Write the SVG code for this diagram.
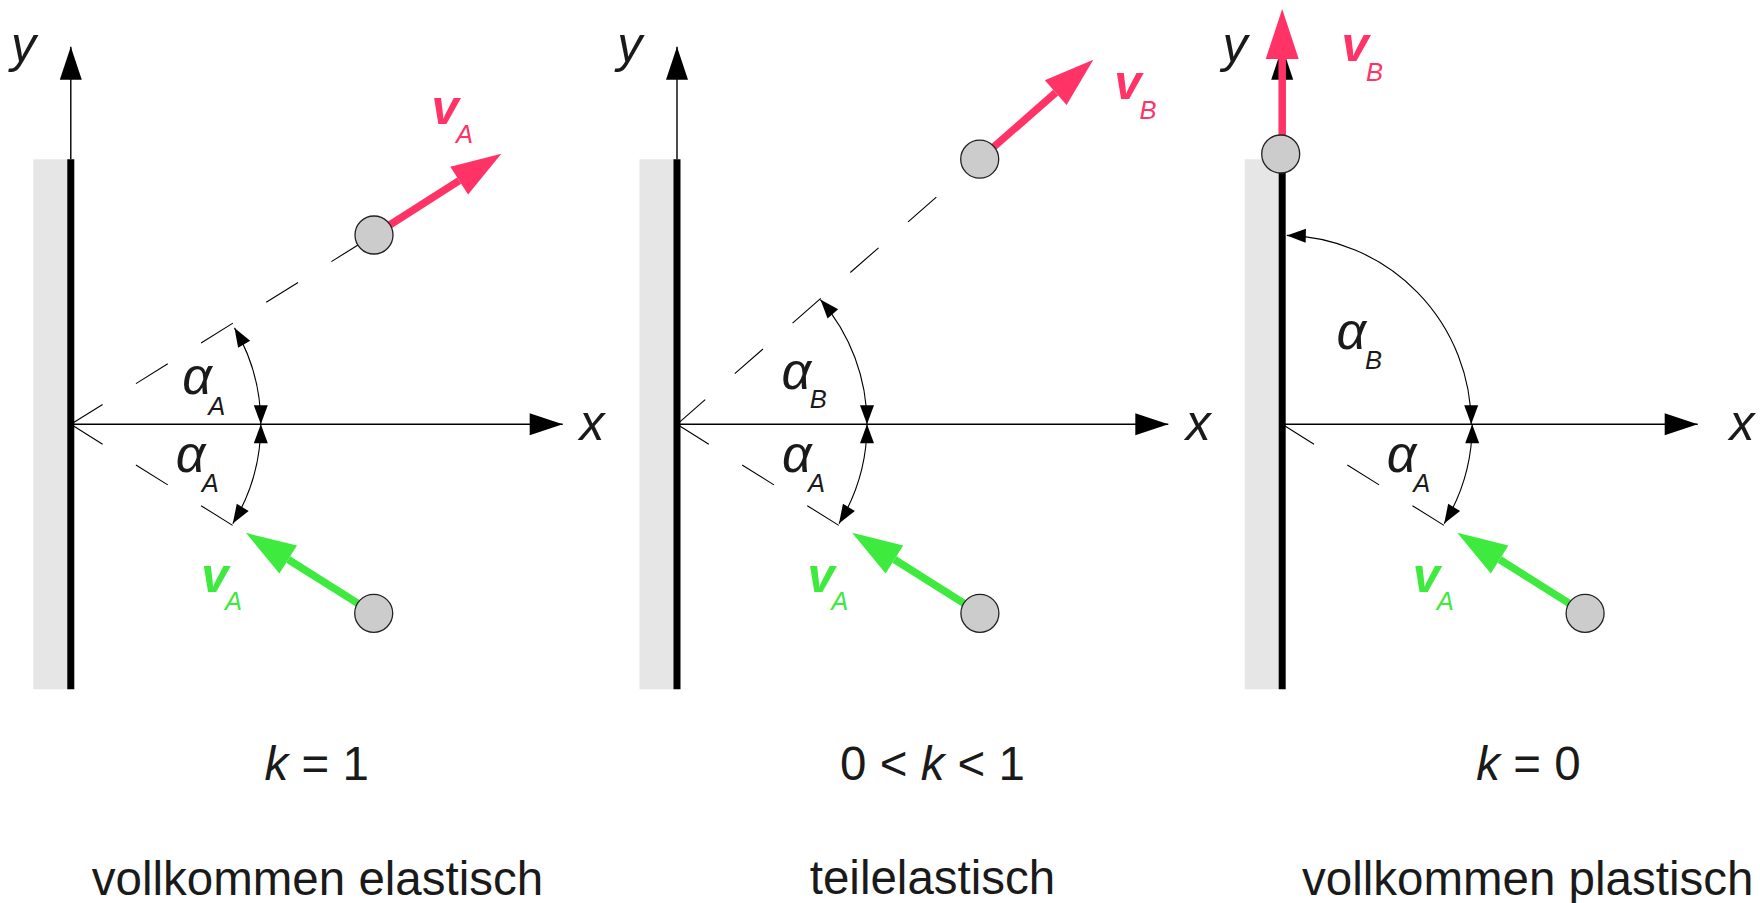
<svg xmlns="http://www.w3.org/2000/svg" width="1760" height="903" viewBox="0 0 1760 903">
<style>
text{font-family:"Liberation Sans",Arial,sans-serif;fill:#1a1a1a}
.lbl{font-size:50px;font-style:italic}
.al{font-size:52px;font-style:italic}
.sub{font-size:25.5px;font-style:italic}
.vec{font-size:49px;font-style:italic;font-weight:bold}
.red{fill:#ff3366}
.grn{fill:#3dea3d}
.wallbg{fill:#e6e6e6}
.wall{stroke:#000;stroke-width:7}
.axis{stroke:#000;stroke-width:1.4;fill:none;marker-end:url(#axhead)}
.dash{stroke:#000;stroke-width:1.1;fill:none;stroke-dasharray:37.5 39.3}
.arc{stroke:#000;stroke-width:1.1;fill:none;marker-start:url(#archead);marker-end:url(#archead)}
.vr{stroke:#ff3366;stroke-width:7.5;marker-end:url(#redhead)}
.vg{stroke:#3dea3d;stroke-width:7.5;marker-end:url(#grnhead)}
.ball{fill:#cccccc;stroke:#222;stroke-width:1.3}
.cap{font-size:47.5px}
</style>
<defs>
<marker id="axhead" markerUnits="userSpaceOnUse" markerWidth="34" markerHeight="24" refX="0" refY="0" orient="auto" overflow="visible"><path d="M0,0 L-33,-11 L-33,11 Z" fill="#000"/></marker>
<marker id="archead" markerUnits="userSpaceOnUse" markerWidth="20" markerHeight="16" refX="0" refY="0" orient="auto-start-reverse" overflow="visible"><path d="M0,0 L-19,-7 L-19,7 Z" fill="#000"/></marker>
<marker id="redhead" markerUnits="userSpaceOnUse" markerWidth="50" markerHeight="34" refX="0" refY="0" orient="auto" overflow="visible"><path d="M50,0 L0,-16.5 L0,16.5 Z" fill="#ff3366"/></marker>
<marker id="grnhead" markerUnits="userSpaceOnUse" markerWidth="50" markerHeight="34" refX="0" refY="0" orient="auto" overflow="visible"><path d="M50,0 L0,-16.5 L0,16.5 Z" fill="#3dea3d"/></marker>
</defs>

<!-- Panel 1: vollkommen elastisch -->
<g id="panel1" transform="translate(70.8,0)">
  <g id="p1-wall">
    <rect class="wallbg" x="-37.5" y="159.3" width="37" height="530"/>
    <line class="wall" x1="0" y1="159.3" x2="0" y2="689.3"/>
  </g>
  <g id="p1-axes">
    <line class="axis" x1="0" y1="159.3" x2="0" y2="46.7"/>
    <line class="axis" x1="0" y1="424.3" x2="491.9" y2="424.3"/>
    <text class="lbl" x="-59.8" y="62">y</text>
    <text class="lbl" x="508.7" y="440">x</text>
  </g>
  <g id="p1-connectors">
    <line class="dash" x1="0" y1="424.3" x2="303.2" y2="235"/>
    <line class="dash" x1="0" y1="424.3" x2="161.8" y2="525.4"/>
    <path class="arc" d="M190,424.3 A190,190 0 0 0 163.7,327.9"/>
    <path class="arc" d="M190,424.3 A190,190 0 0 1 162,523.6"/>
    <line class="vr" x1="303.2" y1="235" x2="388.4" y2="180.7"/>
    <line class="vg" x1="302.9" y1="613.3" x2="217.4" y2="559.5"/>
  </g>
  <g id="p1-ball-out"><circle class="ball" cx="303.2" cy="235" r="19"/></g>
  <g id="p1-ball-in"><circle class="ball" cx="302.9" cy="613.3" r="19"/></g>
  <g id="p1-labels">
    <text><tspan class="al" x="111.5" y="393.5">α</tspan><tspan class="sub" x="137.5" y="414.5">A</tspan></text>
    <text><tspan class="al" x="104.9" y="471.5">α</tspan><tspan class="sub" x="130.9" y="492">A</tspan></text>
    <text><tspan class="vec red" x="360.7" y="124">v</tspan><tspan class="sub red" x="385.2" y="143.3">A</tspan></text>
    <text><tspan class="vec grn" x="130.4" y="591.5">v</tspan><tspan class="sub grn" x="154.2" y="610">A</tspan></text>
  </g>
</g>

<!-- Panel 2: teilelastisch -->
<g id="panel2" transform="translate(677,0)">
  <g id="p2-wall">
    <rect class="wallbg" x="-37.5" y="159.3" width="37" height="530"/>
    <line class="wall" x1="0" y1="159.3" x2="0" y2="689.3"/>
  </g>
  <g id="p2-axes">
    <line class="axis" x1="0" y1="159.3" x2="0" y2="46.7"/>
    <line class="axis" x1="0" y1="424.3" x2="491.3" y2="424.3"/>
    <text class="lbl" x="-59.8" y="62">y</text>
    <text class="lbl" x="508.7" y="440">x</text>
  </g>
  <g id="p2-connectors">
    <line class="dash" x1="0" y1="424.3" x2="302.7" y2="159.2"/>
    <line class="dash" x1="0" y1="424.3" x2="161.8" y2="525.4"/>
    <path class="arc" d="M190,424.3 A190,190 0 0 0 143.4,299.6"/>
    <path class="arc" d="M190,424.3 A190,190 0 0 1 162,523.6"/>
    <line class="vr" x1="302.7" y1="159.2" x2="378.7" y2="92.6"/>
    <line class="vg" x1="302.9" y1="613.3" x2="217.4" y2="559.5"/>
  </g>
  <g id="p2-ball-out"><circle class="ball" cx="302.7" cy="159.2" r="19"/></g>
  <g id="p2-ball-in"><circle class="ball" cx="302.9" cy="613.3" r="19"/></g>
  <g id="p2-labels">
    <text><tspan class="al" x="104.5" y="388.5">α</tspan><tspan class="sub" x="132.7" y="408">B</tspan></text>
    <text><tspan class="al" x="104.9" y="471.5">α</tspan><tspan class="sub" x="130.9" y="492">A</tspan></text>
    <text><tspan class="vec red" x="437.2" y="99">v</tspan><tspan class="sub red" x="462.6" y="119">B</tspan></text>
    <text><tspan class="vec grn" x="130.4" y="591.5">v</tspan><tspan class="sub grn" x="154.2" y="610">A</tspan></text>
  </g>
</g>

<!-- Panel 3: vollkommen plastisch -->
<g id="panel3" transform="translate(1282.2,0)">
  <g id="p3-wall">
    <rect class="wallbg" x="-37.5" y="159.3" width="37" height="530"/>
    <line class="wall" x1="0" y1="159.3" x2="0" y2="689.3"/>
  </g>
  <g id="p3-axes">
    <line class="axis" x1="0" y1="159.3" x2="0" y2="46.7"/>
    <line class="axis" x1="0" y1="424.3" x2="415.5" y2="424.3"/>
    <text class="lbl" x="-59.8" y="62">y</text>
    <text class="lbl" x="447.3" y="440">x</text>
  </g>
  <g id="p3-connectors">
    <line class="dash" x1="0" y1="424.3" x2="161.8" y2="525.4"/>
    <path class="arc" d="M189,424.3 A189,189 0 0 0 4.6,235.4"/>
    <path class="arc" d="M190,424.3 A190,190 0 0 1 162,523.6"/>
    <line class="vr" x1="0" y1="154" x2="0" y2="59"/>
    <line class="vg" x1="302.9" y1="613.3" x2="217.4" y2="559.5"/>
  </g>
  <g id="p3-ball-out"><circle class="ball" cx="-1.5" cy="154" r="19"/></g>
  <g id="p3-ball-in"><circle class="ball" cx="302.9" cy="613.3" r="19"/></g>
  <g id="p3-labels">
    <text><tspan class="al" x="54.3" y="349">α</tspan><tspan class="sub" x="82.8" y="369">B</tspan></text>
    <text><tspan class="al" x="104.5" y="471.5">α</tspan><tspan class="sub" x="131.1" y="492">A</tspan></text>
    <text><tspan class="vec red" x="59.3" y="61">v</tspan><tspan class="sub red" x="83.8" y="81">B</tspan></text>
    <text><tspan class="vec grn" x="130.6" y="591.5">v</tspan><tspan class="sub grn" x="154.5" y="610">A</tspan></text>
  </g>
</g>

<!-- Captions -->
<g id="captions">
  <text class="cap" x="316.7" y="780" text-anchor="middle"><tspan font-style="italic">k</tspan> = 1</text>
  <text class="cap" x="932.5" y="780" text-anchor="middle">0 &lt; <tspan font-style="italic">k</tspan> &lt; 1</text>
  <text class="cap" x="1528.5" y="780" text-anchor="middle"><tspan font-style="italic">k</tspan> = 0</text>
  <text class="cap" x="317.5" y="895" text-anchor="middle">vollkommen elastisch</text>
  <text class="cap" x="932.5" y="894" text-anchor="middle">teilelastisch</text>
  <text class="cap" x="1527.7" y="894.5" text-anchor="middle">vollkommen plastisch</text>
</g>
</svg>
